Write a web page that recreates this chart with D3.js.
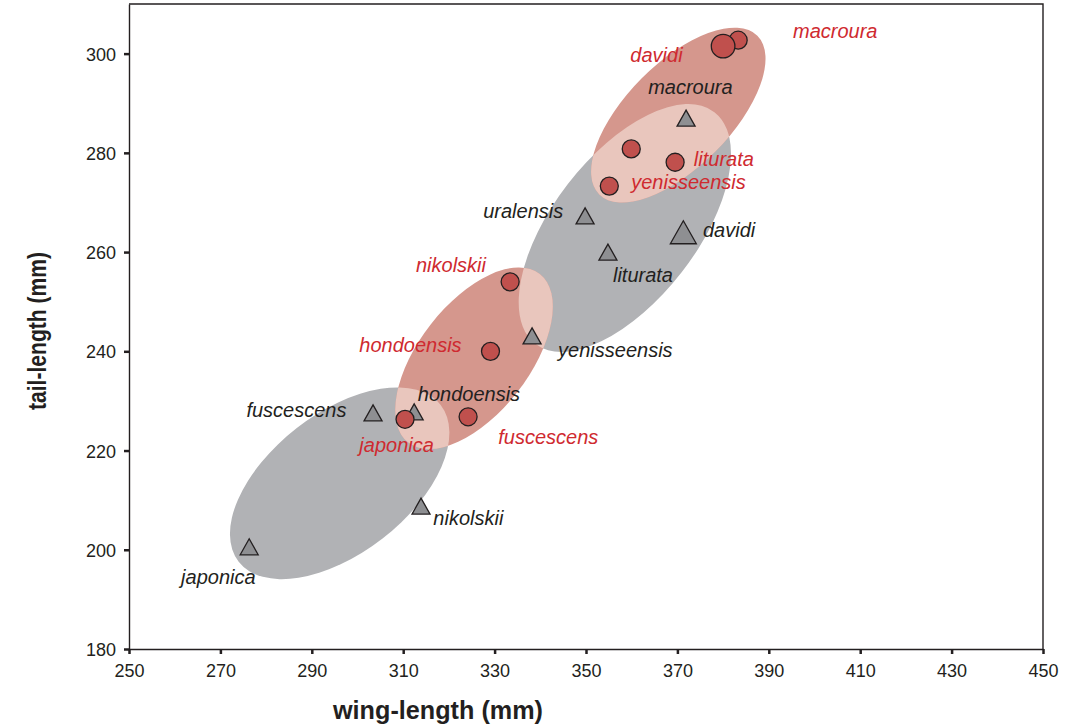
<!DOCTYPE html>
<html>
<head>
<meta charset="utf-8">
<script src="https://cdn.jsdelivr.net/npm/d3@7"></script>
<style>
  body { margin: 0; background: #fff; }
  text { font-family: "Liberation Sans", Arial, Helvetica, sans-serif; }
</style>
</head>
<body>
<svg id="chart" width="1074" height="728"></svg>
<script>
// red circles (one group of taxa)
const redNames = ["macroura", "davidi", "", "liturata", "yenisseensis", "nikolskii", "hondoensis", "fuscescens", "japonica"];
const redWing = [383.3, 380.0, 359.9, 369.5, 355.1, 333.4, 329.1, 324.2, 310.4];
const redTail = [302.7, 301.5, 280.8, 278.1, 273.3, 254.0, 240.0, 226.8, 226.3];
const redLarge = [false, true, false, false, false, false, false, false, false];

// grey triangles (other group)
const greyNames = ["macroura", "uralensis", "liturata", "davidi", "yenisseensis", "fuscescens", "hondoensis", "nikolskii", "japonica"];
const greyWing = [371.9, 349.8, 354.8, 371.3, 338.2, 303.4, 312.4, 313.9, 276.3];
const greyTail = [287.0, 267.3, 260.0, 264.0, 243.1, 227.6, 227.8, 208.8, 200.6];
const greyLarge = [false, false, false, true, false, false, false, false, false];

// label anchors (data units, left/baseline)
const redLabelText = ["macroura", "davidi", "liturata", "yenisseensis", "nikolskii", "hondoensis", "fuscescens", "japonica"];
const redLabelX = [395.3, 359.7, 373.6, 359.9, 312.8, 300.4, 330.8, 300.4];
const redLabelY = [303.1, 298.3, 277.3, 272.7, 256.0, 239.8, 221.3, 219.7];
const greyLabelText = ["macroura", "uralensis", "davidi", "liturata", "yenisseensis", "hondoensis", "fuscescens", "nikolskii", "japonica"];
const greyLabelX = [363.6, 327.5, 375.6, 355.9, 343.9, 313.2, 275.7, 316.6, 261.4];
const greyLabelY = [291.8, 266.9, 263.0, 254.0, 238.8, 230.0, 226.8, 205.0, 193.1];

// ellipses: centre and major-axis tip in data units, minor/major ratio
const ellGroup = ["grey", "grey", "red", "red"];
const ellCx = [296.1, 358.5, 370.2, 325.5];
const ellCy = [213.4, 264.85, 287.6, 238.6];
const ellTx = [318.2, 378.1, 387.5, 339.9];
const ellTy = [229.2, 288.2, 303.6, 255.6];
const ellRatio = [0.547, 0.492, 0.464, 0.514];

const xTicks = d3.range(250, 451, 20);
const yTicks = d3.range(180, 301, 20);

const svg = d3.select("#chart");
const x = d3.scaleLinear().domain([250, 450]).range([129, 1043]);
const y = d3.scaleLinear().domain([180, 310]).range([649, 4]);

const ink = "#231f20";
const redText = "#cf2a30";

const ellipses = ellCx.map((cx, i) => {
  const px = x(cx), py = y(ellCy[i]);
  const tx = x(ellTx[i]), ty = y(ellTy[i]);
  const a = Math.hypot(tx - px, ty - py);
  return {
    group: ellGroup[i], cx: px, cy: py, rx: a, ry: a * ellRatio[i],
    angle: Math.atan2(ty - py, tx - px) * 180 / Math.PI
  };
});

const defs = svg.append("defs");
defs.append("clipPath").attr("id", "greyClip")
  .selectAll("ellipse")
  .data(ellipses.filter(d => d.group === "grey"))
  .join("ellipse")
  .attr("cx", 0).attr("cy", 0)
  .attr("rx", d => d.rx).attr("ry", d => d.ry)
  .attr("transform", d => `translate(${d.cx},${d.cy}) rotate(${d.angle})`);

const ellG = svg.append("g");
const drawEll = (sel, data, fill) => sel.selectAll(null)
  .data(data)
  .join("ellipse")
  .attr("cx", 0).attr("cy", 0)
  .attr("rx", d => d.rx).attr("ry", d => d.ry)
  .attr("transform", d => `translate(${d.cx},${d.cy}) rotate(${d.angle})`)
  .attr("fill", fill);

drawEll(ellG, ellipses.filter(d => d.group === "grey"), "#b1b2b5");
drawEll(ellG, ellipses.filter(d => d.group === "red"), "#d5978d");
drawEll(ellG.append("g").attr("clip-path", "url(#greyClip)"),
  ellipses.filter(d => d.group === "red"), "#e9c6bd");

// axes
const xAxis = svg.append("g")
  .attr("transform", "translate(0,649)")
  .call(d3.axisBottom(x).tickValues(xTicks).tickSize(5).tickSizeOuter(0).tickPadding(8));
const yAxis = svg.append("g")
  .attr("transform", "translate(129,0)")
  .call(d3.axisLeft(y).tickValues(yTicks).tickSize(5).tickSizeOuter(0).tickPadding(8));

[xAxis, yAxis].forEach(ax => {
  ax.select(".domain").attr("stroke", ink).attr("stroke-width", 1.4);
  ax.selectAll(".tick line").attr("stroke", ink).attr("stroke-width", 2.5);
  ax.selectAll(".tick text").attr("fill", ink).style("font-size", "18px");
});
xAxis.selectAll(".tick text").attr("dy", "0.85em");
yAxis.selectAll(".tick text").attr("dy", "0.36em");

// frame top and right
svg.append("path")
  .attr("d", `M${x(250)},${y(310)}H${x(450)}V${y(180)}`)
  .attr("fill", "none").attr("stroke", ink).attr("stroke-width", 1.4);

// triangles
const tri = (s, h) => `M0,${-h / 2}L${s / 2},${h / 2}L${-s / 2},${h / 2}Z`;
svg.append("g").selectAll("path")
  .data(greyWing.map((w, i) => ({ w, t: greyTail[i], big: greyLarge[i] })))
  .join("path")
  .attr("transform", d => `translate(${x(d.w)},${y(d.t)})`)
  .attr("d", d => d.big ? tri(26, 23) : tri(18, 16))
  .attr("fill", "#8e8f92")
  .attr("stroke", ink)
  .attr("stroke-width", 1.3)
  .attr("stroke-linejoin", "miter");

// circles
svg.append("g").selectAll("circle")
  .data(redWing.map((w, i) => ({ w, t: redTail[i], big: redLarge[i] })))
  .join("circle")
  .attr("cx", d => x(d.w))
  .attr("cy", d => y(d.t))
  .attr("r", d => d.big ? 11.8 : 9)
  .attr("fill", "#c0504d")
  .attr("stroke", ink)
  .attr("stroke-width", 1.3);

// labels
const labG = svg.append("g").style("font-size", "20px").style("font-style", "italic");
labG.selectAll("text.red")
  .data(redLabelText.map((t, i) => ({ t, x: redLabelX[i], y: redLabelY[i] })))
  .join("text")
  .attr("class", "red")
  .attr("x", d => x(d.x)).attr("y", d => y(d.y))
  .attr("fill", redText)
  .text(d => d.t);
labG.selectAll("text.grey")
  .data(greyLabelText.map((t, i) => ({ t, x: greyLabelX[i], y: greyLabelY[i] })))
  .join("text")
  .attr("class", "grey")
  .attr("x", d => x(d.x)).attr("y", d => y(d.y))
  .attr("fill", ink)
  .text(d => d.t);

// axis titles
svg.append("text")
  .attr("x", 438).attr("y", 719)
  .attr("text-anchor", "middle")
  .attr("textLength", 210).attr("lengthAdjust", "spacingAndGlyphs")
  .style("font-size", "25px").style("font-weight", "bold")
  .attr("fill", ink)
  .text("wing-length (mm)");
svg.append("text")
  .attr("transform", "translate(46,331) rotate(-90)")
  .attr("text-anchor", "middle")
  .attr("textLength", 158).attr("lengthAdjust", "spacingAndGlyphs")
  .style("font-size", "25px").style("font-weight", "bold")
  .attr("fill", ink)
  .text("tail-length (mm)");
</script>
</body>
</html>
